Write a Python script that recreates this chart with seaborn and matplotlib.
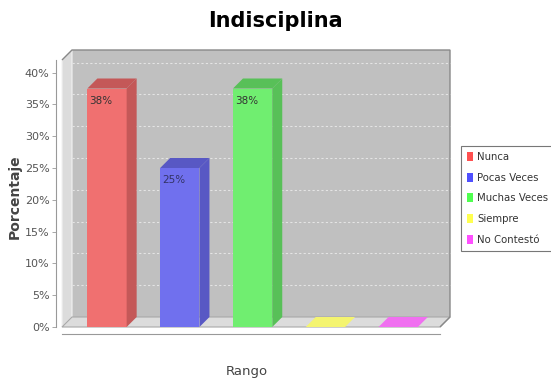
import numpy as np
import pandas as pd
import seaborn as sns
import matplotlib
matplotlib.use("Agg")
import matplotlib.pyplot as plt
from matplotlib.patches import Polygon, Patch
from matplotlib.transforms import IdentityTransform

# ---- data ----
categories = ["Nunca", "Pocas Veces", "Muchas Veces", "Siempre", "No Contestó"]
values = [37.5, 25.0, 37.5, 0.0, 0.0]
bar_labels = ["38%", "25%", "38%", "", ""]
ytick_values = [0, 5, 10, 15, 20, 25, 30, 35, 40]
ytick_labels = ["0%", "5%", "10%", "15%", "20%", "25%", "30%", "35%", "40%"]
front_colors = ["#f07070", "#7070ee", "#70ee70", "#f4f470", "#f070f0"]
dark_colors = ["#c45858", "#5858c4", "#58c058", "#c8c858", "#c458c4"]
legend_colors = ["#ff5050", "#5050ff", "#50ff50", "#ffff50", "#ff50ff"]

W, H = 551, 380
sns.set_theme(style="white")
plt.rcParams['font.family'] = ['DejaVu Sans']

fig = plt.figure(figsize=(W / 100, H / 100), dpi=100)
fig.patch.set_facecolor("white")

# front box: x 62..440 px, y 60..327 px (from top)
ax = fig.add_axes([62 / W, 1 - 327 / H, (440 - 62) / W, (327 - 60) / H])
ax.set_facecolor("none")

df = pd.DataFrame({"Rango": categories, "Porcentaje": values})
sns.barplot(data=df, x="Rango", y="Porcentaje", hue="Rango", palette=front_colors,
            width=0.54, saturation=1, legend=False, ax=ax, zorder=3)

ppu = 72.8
xl = -(107 - 62) / ppu
xr = xl + (440 - 62) / ppu
ytop = (327 - 60) / 6.36
ax.set_xlim(xl, xr)
ax.set_ylim(0, ytop)

dx, dy = 10, 10
T = ax.transData
ident = IdentityTransform()

def d(x, y):
    return T.transform((x, y))

# back wall
p00 = d(xl, 0); p10 = d(xr, 0); p01 = d(xl, ytop); p11 = d(xr, ytop)
back = [(p00[0] + dx, p00[1] + dy), (p10[0] + dx, p10[1] + dy),
        (p11[0] + dx, p11[1] + dy), (p01[0] + dx, p01[1] + dy)]
ax.add_patch(Polygon(back, closed=True, facecolor="#c0c0c0", edgecolor="none",
                     transform=ident, clip_on=False, zorder=0))
# left wall
left = [tuple(p00), (p00[0] + dx, p00[1] + dy), (p01[0] + dx, p01[1] + dy), tuple(p01)]
ax.add_patch(Polygon(left, closed=True, facecolor="#dcdcdc", edgecolor="#f2f2f2", lw=0.8,
                     transform=ident, clip_on=False, zorder=0.5))
# floor
floor = [tuple(p00), tuple(p10), (p10[0] + dx, p10[1] + dy), (p00[0] + dx, p00[1] + dy)]
ax.add_patch(Polygon(floor, closed=True, facecolor="#dcdcdc", edgecolor="#a8a8a8", lw=0.8,
                     transform=ident, clip_on=False, zorder=0.5))
# top / right outline
outline = [tuple(p01), (p01[0] + dx, p01[1] + dy), (p11[0] + dx, p11[1] + dy),
           (p10[0] + dx, p10[1] + dy), tuple(p10)]
ax.add_patch(Polygon(outline, closed=False, fill=False, edgecolor="#888888", lw=1.0,
                     transform=ident, clip_on=False, zorder=0.6))

# gridlines on back wall
for yv in ytick_values[1:]:
    a = d(xl, yv); b = d(xr, yv)
    ax.plot([a[0] + dx, b[0] + dx], [a[1] + dy, b[1] + dy], color="#e4e4e4", lw=0.8,
            ls=(0, (2, 2)), transform=ident, clip_on=False, zorder=0.7)

# 3D faces for bars
bar_patches = [p for p in ax.patches if p.get_zorder() == 3]
for i, patch in enumerate(bar_patches):
    x0 = patch.get_x(); w = patch.get_width(); h = patch.get_height()
    a = d(x0, 0); b = d(x0 + w, 0); c = d(x0 + w, h); e = d(x0, h)
    side = [tuple(b), (b[0] + dx, b[1] + dy), (c[0] + dx, c[1] + dy), tuple(c)]
    top = [tuple(e), tuple(c), (c[0] + dx, c[1] + dy), (e[0] + dx, e[1] + dy)]
    if h > 0:
        ax.add_patch(Polygon(side, closed=True, facecolor=dark_colors[i], edgecolor="none",
                             transform=ident, clip_on=False, zorder=3))
        ax.add_patch(Polygon(top, closed=True, facecolor=dark_colors[i], edgecolor="none",
                             transform=ident, clip_on=False, zorder=3))
    else:
        ax.add_patch(Polygon(top, closed=True, facecolor=front_colors[i], edgecolor="none",
                             transform=ident, clip_on=False, zorder=3))
    patch.set_edgecolor("none")

# bar labels
for i, (v, lab) in enumerate(zip(values, bar_labels)):
    if lab:
        ax.text(i - 0.08, v - 1.9, lab, ha="center", va="center", fontsize=7.5,
                color="#333366" if i == 1 else "#333333", zorder=5)

# axes styling
for s in ["top", "right"]:
    ax.spines[s].set_visible(False)
ax.spines["left"].set_position(("outward", 4))
ax.spines["bottom"].set_position(("outward", 5))
ax.spines["left"].set_color("#999999")
ax.spines["bottom"].set_color("#999999")
ax.spines["left"].set_linewidth(0.8)
ax.spines["bottom"].set_linewidth(0.8)
ax.set_yticks(ytick_values)
ax.set_yticklabels(ytick_labels)
ax.set_xticks([])
ax.tick_params(axis="y", left=True, length=3, width=0.6, color="#999999",
               labelsize=8, labelcolor="#555555", pad=2)
ax.set_ylabel("Porcentaje", fontsize=10, fontweight="bold", color="#444444")
ax.yaxis.set_label_coords((22 - 62) / (440 - 62), (327 - 197) / (327 - 60))
ax.set_xlabel("Rango", fontsize=9.5, color="#444444")
ax.xaxis.set_label_coords((247 - 62) / (440 - 62), -(365 - 327) / (327 - 60))

fig.text(0.5, 1 - 21 / H, "Indisciplina", ha="center", va="center",
         fontsize=15, fontweight="bold", color="black")

handles = [Patch(facecolor=c, edgecolor="none") for c in legend_colors]
leg = fig.legend(handles, categories, loc="upper left",
                 bbox_to_anchor=(461 / W, 1 - 146 / H), frameon=True, fancybox=False,
                 fontsize=7.3, handlelength=0.6, handleheight=1.0, handletextpad=0.4,
                 labelspacing=1.05, borderpad=0.6, borderaxespad=0)
leg.get_frame().set_edgecolor("#555555")
leg.get_frame().set_linewidth(0.8)
for t in leg.get_texts():
    t.set_color("#333333")

fig.savefig("out.png", dpi=100)
